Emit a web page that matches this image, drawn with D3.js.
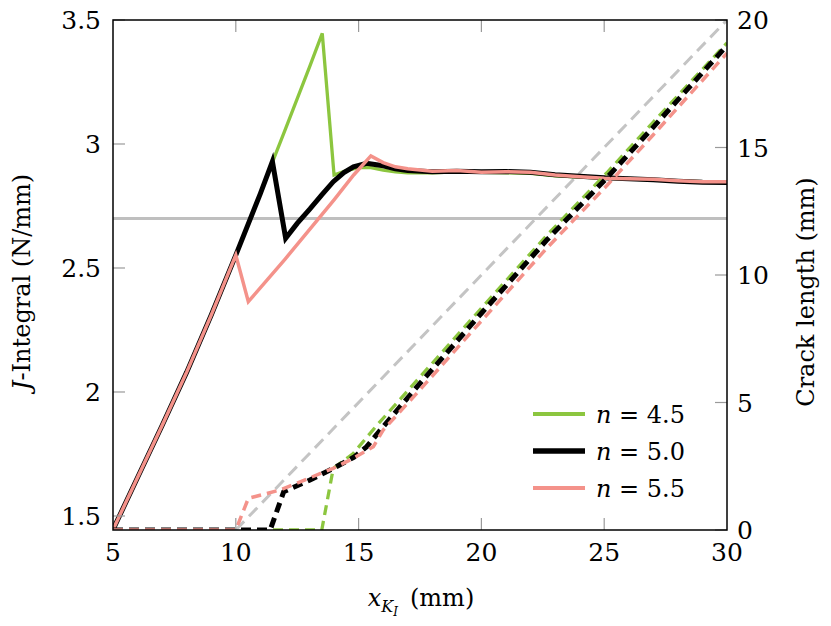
<!DOCTYPE html>
<html><head><meta charset="utf-8">
<script src="https://cdn.jsdelivr.net/npm/d3@7/dist/d3.min.js"></script>
<style>body{margin:0;background:#fff}text{font-family:"DejaVu Serif",serif;fill:#000}</style>
</head><body><svg id="c" width="831" height="626"></svg>
<script>
// ---- data ----
const xTicks = [5,10,15,20,25,30];
const jTicks = [1.5,2,2.5,3,3.5];
const cTicks = [0,5,10,15,20];
const seriesNames = ["4.5","5.0","5.5"];
const jRef = 2.7;
const refCrackX = [10,30];
const refCrackY = [0,20];

const jX_45 = [5,6,7,8,9,10,11,11.5,12,13,13.52,14.0,14.5,15.0,15.5,16,16.5,17,18,19,20,21,22,23,24,25,26,27,28,29,30];
const jY_45 = [1.445,1.655,1.865,2.08,2.31,2.552,2.80,2.929,3.055,3.31,3.446,2.875,2.893,2.905,2.905,2.895,2.888,2.884,2.884,2.888,2.886,2.884,2.882,2.872,2.867,2.862,2.858,2.855,2.85,2.848,2.847];
const jX_50 = [5,6,7,8,9,10,11,11.49,12.03,12.5,13.02,13.5,13.97,14.4,14.79,15.33,16,16.5,17,18,19,20,21,22,23,24,25,26,27,28,29,30];
const jY_50 = [1.445,1.655,1.865,2.08,2.31,2.552,2.80,2.929,2.62,2.68,2.738,2.795,2.848,2.885,2.908,2.922,2.912,2.9,2.893,2.888,2.89,2.888,2.889,2.886,2.876,2.87,2.864,2.86,2.856,2.85,2.846,2.845];
const jX_55 = [5,6,7,8,9,10,10.51,12,13,14,14.8,15.5,16,16.5,17,18,19,20,21,22,23,24,25,26,27,28,29,30];
const jY_55 = [1.445,1.655,1.865,2.08,2.31,2.552,2.364,2.535,2.655,2.775,2.875,2.952,2.925,2.908,2.9,2.89,2.893,2.886,2.888,2.886,2.875,2.868,2.862,2.86,2.858,2.852,2.848,2.848];

const cX_45 = [5,13.5,13.97,14.78,15.74,17.5,20,22.66,25.1,27,30];
const cY_45 = [0,0,2.42,3.0,4.1,6.0,8.7,11.55,14.0,16.0,19.1];
const cX_50 = [5,11.4,11.95,13.0,13.97,14.8,15.33,16.0,17.5,19,20,22.66,25.1,27,30];
const cY_50 = [0,0,1.5,1.95,2.42,2.85,3.27,4.05,5.75,7.4,8.5,11.37,13.8,15.8,19.0];
const cX_55 = [5,10.0,10.51,11.8,13.97,14.78,15.6,16.0,17.5,20,22.66,25.1,27,30];
const cY_55 = [0,0,1.24,1.57,2.42,2.81,3.27,3.92,5.5,8.2,11.05,13.5,15.5,18.7];

// ---- layout ----
const L=113, R=727, T=20, B=530;
const colors = ["#8cc63f","#000000","#f4928a"];
const widths = [3.3,5,3.5];
const svg = d3.select("#c");
const x = d3.scaleLinear().domain([5,30]).range([L,R]);
const yJ = d3.scaleLinear().domain([1.4435,3.5]).range([B,T]);
const yC = d3.scaleLinear().domain([0,20]).range([B,T]);

svg.append("clipPath").attr("id","clip").append("rect").attr("x",L).attr("y",T).attr("width",R-L).attr("height",B-T);
const plot = svg.append("g").attr("clip-path","url(#clip)");

// ticks (inside)
const tk = 12, tickCol="#9a9a9a";
const tg = svg.append("g").attr("stroke",tickCol).attr("stroke-width",1.2);
xTicks.forEach(v=>{ if(v>5&&v<30){
  tg.append("line").attr("x1",x(v)).attr("x2",x(v)).attr("y1",B).attr("y2",B-tk);
  tg.append("line").attr("x1",x(v)).attr("x2",x(v)).attr("y1",T).attr("y2",T+tk);}});
jTicks.forEach(v=>{ tg.append("line").attr("x1",L).attr("x2",L+tk).attr("y1",yJ(v)).attr("y2",yJ(v)); });
cTicks.forEach(v=>{ tg.append("line").attr("x1",R).attr("x2",R-tk).attr("y1",yC(v)).attr("y2",yC(v)); });

// reference lines
plot.append("line").attr("x1",L).attr("x2",R).attr("y1",yJ(jRef)).attr("y2",yJ(jRef))
  .attr("stroke","#bfbfbf").attr("stroke-width",3);
plot.append("path").attr("d",d3.line().x((d,i)=>x(refCrackX[i])).y((d,i)=>yC(refCrackY[i]))(refCrackX))
  .attr("fill","none").attr("stroke","#c4c4c4").attr("stroke-width",3).attr("stroke-dasharray","12,7");

const jSets=[[jX_45,jY_45],[jX_50,jY_50],[jX_55,jY_55]];
const cSets=[[cX_45,cY_45],[cX_50,cY_50],[cX_55,cY_55]];
const lineJ = (xs,ys)=>d3.line().x((d,i)=>x(xs[i])).y((d,i)=>yJ(ys[i]))(xs);
const lineC = (xs,ys)=>d3.line().x((d,i)=>x(xs[i])).y((d,i)=>yC(ys[i]))(xs);
jSets.forEach((s,k)=>{
  plot.append("path").attr("d",lineJ(s[0],s[1])).attr("fill","none").attr("stroke",colors[k])
   .attr("stroke-width",widths[k]).attr("stroke-linejoin","miter");
});
cSets.forEach((s,k)=>{
  plot.append("path").attr("d",lineC(s[0],s[1])).attr("fill","none").attr("stroke",colors[k])
   .attr("stroke-width",widths[k]).attr("stroke-dasharray","10,6");
});

// frame
svg.append("rect").attr("x",L).attr("y",T).attr("width",R-L).attr("height",B-T)
  .attr("fill","none").attr("stroke","#000").attr("stroke-width",1.5);

// tick labels
const fs=24, tfs=25;
xTicks.forEach(v=>svg.append("text").attr("x",x(v)).attr("y",561).attr("text-anchor","middle").attr("font-size",tfs).text(v));
jTicks.forEach(v=>svg.append("text").attr("x",101).attr("y",yJ(v)+9).attr("text-anchor","end").attr("font-size",tfs).text(v));
cTicks.forEach(v=>svg.append("text").attr("x",737).attr("y",yC(v)+9).attr("text-anchor","start").attr("font-size",tfs).text(v));

// axis titles
const xt = svg.append("text").attr("x",421).attr("y",606).attr("text-anchor","middle").attr("font-size",fs);
xt.append("tspan").attr("font-style","italic").text("x");
xt.append("tspan").attr("font-style","italic").attr("font-size",16).attr("dy",6).text("K");
xt.append("tspan").attr("font-style","italic").attr("font-size",12).attr("dy",4).text("I");
xt.append("tspan").attr("dy",-10).text("\u2002(mm)");

const yt = svg.append("text").attr("transform","translate(30,282) rotate(-90)").attr("text-anchor","middle").attr("font-size",fs);
yt.append("tspan").attr("font-style","italic").text("J");
yt.append("tspan").text("-Integral (N/mm)");
svg.append("text").attr("transform","translate(814,292) rotate(-90)").attr("text-anchor","middle").attr("font-size",fs).text("Crack length (mm)");

// legend
const lgY=[414,451,488];
seriesNames.forEach((nm,k)=>{
  svg.append("line").attr("x1",533).attr("x2",585).attr("y1",lgY[k]).attr("y2",lgY[k])
    .attr("stroke",colors[k]).attr("stroke-width",k==1?5.5:4);
  const t=svg.append("text").attr("x",596).attr("y",lgY[k]+9).attr("font-size",fs);
  t.append("tspan").attr("font-style","italic").text("n");
  t.append("tspan").text(" = "+nm);
});
</script></body></html>
